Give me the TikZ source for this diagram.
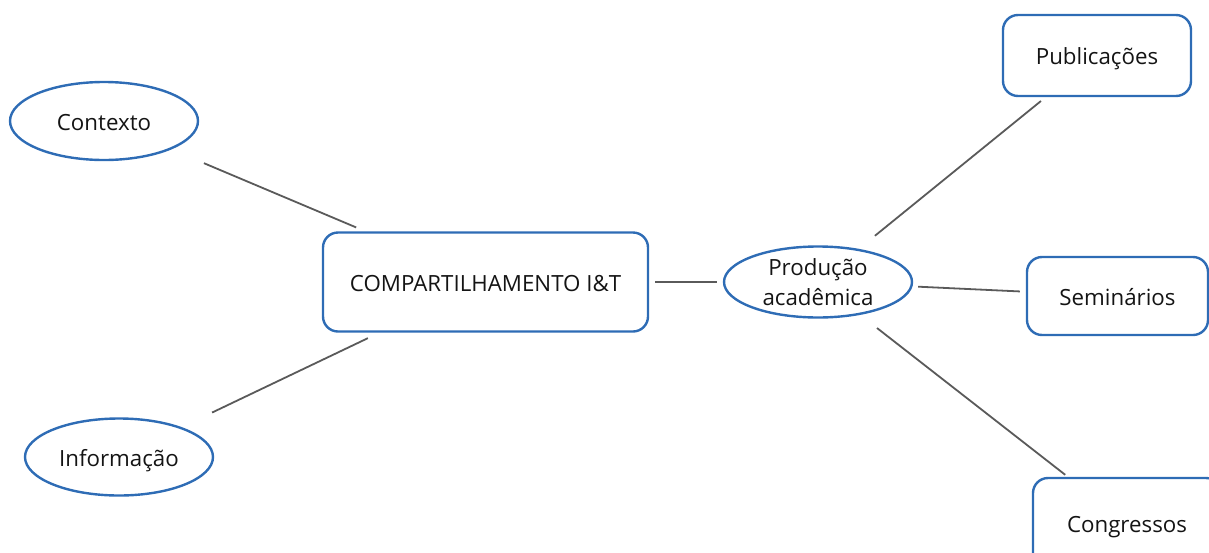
\documentclass[tikz,border=0pt]{standalone}
\usepackage{fontspec}
\setmainfont{Open Sans}
\usetikzlibrary{shapes.geometric,calc}
\definecolor{edgeblue}{RGB}{46,108,181}
\definecolor{linkgray}{RGB}{90,90,90}
\tikzset{
  every node/.style={font=\fontsize{22.3}{30}\selectfont, text=black!92, inner sep=0pt,
    align=center, text height=18pt, text depth=0pt},
  oval/.style={ellipse, draw=edgeblue, line width=2.4pt},
  card/.style={rectangle, rounded corners=15pt, draw=edgeblue, line width=2.4pt},
  link/.style={draw=linkgray, line width=1.8pt}
}
\begin{document}
\begin{tikzpicture}[x=1pt,y=-1pt]
\useasboundingbox (0,0) rectangle (1209,552);

% central topic and its two sources
\node[card, minimum width=325pt, minimum height=99pt] (comp) at (485.5,282) {COMPARTILHAMENTO I\&T};
\node[oval, minimum width=188pt, minimum height=78pt] (ctx) at (104,121) {Contexto};
\node[oval, minimum width=188pt, minimum height=77pt] (info) at (119,457) {Informação};

% academic output branch
\node[oval, minimum width=188pt, minimum height=71pt, text height=48pt, text depth=2pt]
  (prod) at (818,282) {Produção\\acadêmica};
\node[card, minimum width=188pt, minimum height=81pt] (pub) at (1097,55.5) {Publicações};
\node[card, minimum width=181pt, minimum height=78pt] (sem) at (1117.5,296) {Seminários};
\node[card, minimum width=188pt, minimum height=90pt] (cong) at (1127,523) {Congressos};

% connectors
\draw[link] ($(ctx)!0.262!(comp)$) -- ($(ctx)!0.661!(comp)$);
\draw[link] ($(info)!0.254!(comp)$) -- ($(info)!0.679!(comp)$);
\draw[link] ($(comp)!0.51!(prod)$) -- ($(comp)!0.696!(prod)$);
\draw[link] ($(prod)!0.204!(pub)$) -- ($(prod)!0.799!(pub)$);
\draw[link] ($(prod)!0.334!(sem)$) -- ($(prod)!0.674!(sem)$);
\draw[link] ($(prod)!0.191!(cong)$) -- ($(prod)!0.80!(cong)$);
\end{tikzpicture}
\end{document}
